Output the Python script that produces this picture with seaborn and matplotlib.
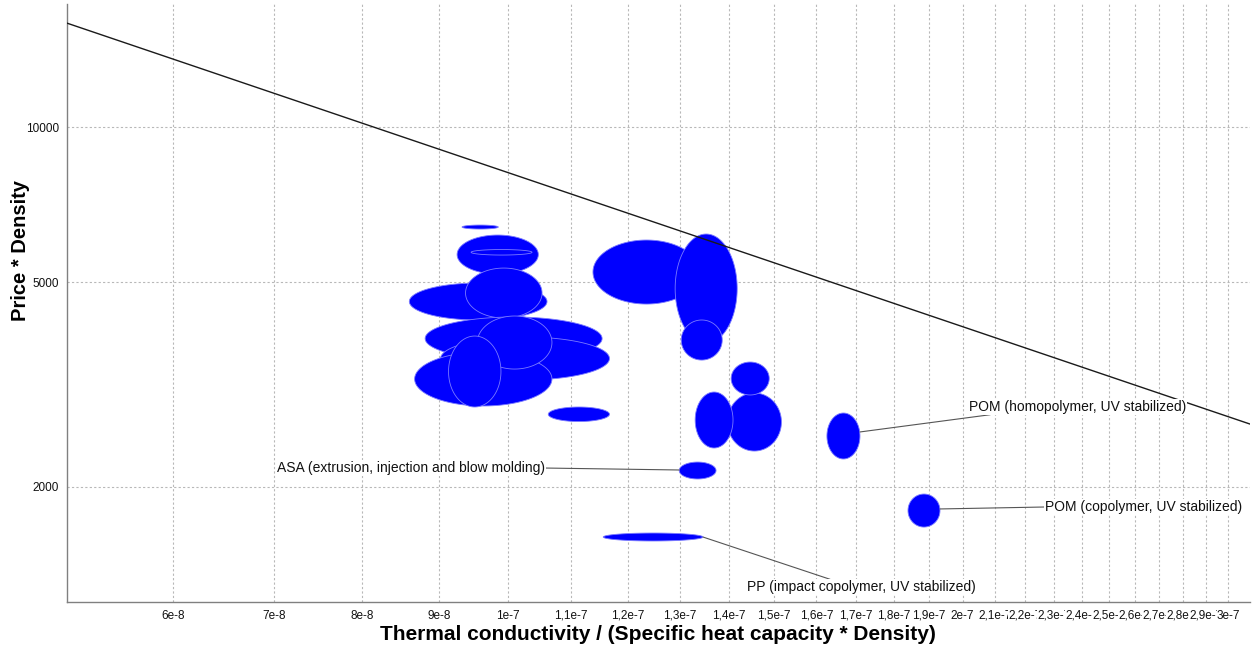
import numpy as np
import pandas as pd
import matplotlib
matplotlib.use("Agg")
import matplotlib.pyplot as plt
import seaborn as sns

# Material bubbles: each is a range in thermal diffusivity (x) and price*density (y)
x_low = [9.32e-8, 9.25e-8, 9.45e-8, 8.60e-8, 9.37e-8, 8.81e-8, 9.02e-8, 8.67e-8,
         9.54e-8, 9.13e-8, 1.063e-7, 1.138e-7, 1.290e-7, 1.302e-7, 1.397e-7,
         1.330e-7, 1.405e-7, 1.626e-7, 1.298e-7, 1.840e-7, 1.156e-7]
x_high = [9.85e-8, 1.047e-7, 1.037e-7, 1.061e-7, 1.053e-7, 1.154e-7, 1.167e-7, 1.069e-7,
          1.069e-7, 9.89e-8, 1.167e-7, 1.340e-7, 1.418e-7, 1.386e-7, 1.517e-7,
          1.409e-7, 1.489e-7, 1.710e-7, 1.373e-7, 1.932e-7, 1.346e-7]
y_low = [6338, 5182, 5642, 4220, 4258, 3528, 3227, 2873,
         3389, 2860, 2680, 4532, 3807, 3528, 2349,
         2381, 3018, 2267, 2073, 1672, 1571]
y_high = [6452, 6170, 5783, 4978, 5323, 4277, 3911, 3657,
          4296, 3928, 2860, 6034, 6198, 4220, 3045,
          3058, 3497, 2784, 2236, 1938, 1628]

# Guide line (performance index)
guide_x = [5.10e-8, 3.10e-7]
guide_y = [15920, 2650]

# Labelled materials: text, anchor on bubble, text position
label_text = ["POM (homopolymer, UV stabilized)", "POM (copolymer, UV stabilized)",
              "ASA (extrusion, injection and blow molding)", "PP (impact copolymer, UV stabilized)"]
label_anchor_x = [1.710e-7, 1.932e-7, 1.298e-7, 1.346e-7]
label_anchor_y = [2558, 1813, 2158, 1599]
label_pos_x = [2.385e-7, 2.268e-7, 1.058e-7, 1.715e-7]
label_pos_y = [2860, 1829, 2177, 1279]

x_tick_values = [6e-8, 7e-8, 8e-8, 9e-8, 1e-7, 1.1e-7, 1.2e-7, 1.3e-7, 1.4e-7, 1.5e-7,
                 1.6e-7, 1.7e-7, 1.8e-7, 1.9e-7, 2e-7, 2.1e-7, 2.2e-7, 2.3e-7, 2.4e-7,
                 2.5e-7, 2.6e-7, 2.7e-7, 2.8e-7, 2.9e-7, 3e-7]
x_tick_labels = ["6e-8", "7e-8", "8e-8", "9e-8", "1e-7", "1,1e-7", "1,2e-7", "1,3e-7",
                 "1,4e-7", "1,5e-7", "1,6e-7", "1,7e-7", "1,8e-7", "1,9e-7", "2e-7",
                 "2,1e-7", "2,2e-7", "2,3e-7", "2,4e-7", "2,5e-7", "2,6e-7", "2,7e-7",
                 "2,8e-7", "2,9e-7", "3e-7"]
y_tick_values = [2000, 5000, 10000]
y_tick_labels = ["2000", "5000", "10000"]
y_minor_values = [3000, 4000, 6000, 7000, 8000, 9000]

sns.set_theme(style="white")
plt.rcParams["font.family"] = ["Liberation Sans", "DejaVu Sans"]

fig = plt.figure(figsize=(12.52, 6.48), dpi=100)
ax = fig.add_axes([0.0533, 0.0710, 0.9451, 0.9228])
ax.set_xscale("log")
ax.set_yscale("log")
ax.set_xlim(5.10e-8, 3.10e-7)
ax.set_ylim(1196, 17334)

# Bubbles are ellipses in log-log space
theta = np.linspace(0, 2 * np.pi, 240)
for i in range(len(x_low)):
    lx0, lx1 = np.log10(x_low[i]), np.log10(x_high[i])
    ly0, ly1 = np.log10(y_low[i]), np.log10(y_high[i])
    cx, cy = (lx0 + lx1) / 2, (ly0 + ly1) / 2
    rx, ry = (lx1 - lx0) / 2, (ly1 - ly0) / 2
    ex = 10 ** (cx + rx * np.cos(theta))
    ey = 10 ** (cy + ry * np.sin(theta))
    ax.fill(ex, ey, facecolor="#0000ff", edgecolor="#7b7bff", linewidth=0.6, zorder=3)

guide = pd.DataFrame({"x": guide_x, "y": guide_y})
sns.lineplot(data=guide, x="x", y="y", ax=ax, color="#1a1a1a", linewidth=1.0, zorder=4)

relpos = [(0.12, 0.0), (0.0, 0.5), (1.0, 0.5), (0.37, 1.0)]
ha = ["center", "left", "right", "center"]
for t, axx, ayy, px, py, rp, h in zip(label_text, label_anchor_x, label_anchor_y,
                                      label_pos_x, label_pos_y, relpos, ha):
    ax.annotate(t, xy=(axx, ayy), xytext=(px, py), ha=h, va="center",
                fontsize=10, color="#111111", zorder=6,
                bbox=dict(facecolor="white", edgecolor="none", pad=0.5),
                arrowprops=dict(arrowstyle="-", color="#555555", lw=0.8,
                                relpos=rp, shrinkA=0, shrinkB=0))

# Ticks and grid
ax.xaxis.set_major_locator(matplotlib.ticker.FixedLocator(x_tick_values))
ax.xaxis.set_major_formatter(matplotlib.ticker.FixedFormatter(x_tick_labels))
minor_x = np.concatenate([np.arange(52, 100, 1) * 1e-9,
                          np.arange(102, 200, 2) * 1e-9,
                          np.arange(205, 310, 5) * 1e-9])
ax.xaxis.set_minor_locator(matplotlib.ticker.FixedLocator(minor_x))
ax.xaxis.set_minor_formatter(matplotlib.ticker.NullFormatter())
ax.yaxis.set_major_locator(matplotlib.ticker.FixedLocator(y_tick_values))
ax.yaxis.set_major_formatter(matplotlib.ticker.FixedFormatter(y_tick_labels))
ax.yaxis.set_minor_locator(matplotlib.ticker.FixedLocator(y_minor_values))
ax.yaxis.set_minor_formatter(matplotlib.ticker.NullFormatter())

ax.tick_params(axis="both", which="major", direction="out", length=4, width=0.8,
               color="#808080", labelsize=8.5, labelcolor="#111111", pad=1.5)
ax.tick_params(axis="both", which="minor", direction="out", length=2, width=0.6,
               color="#808080")
for lbl in ax.get_xticklabels():
    lbl.set_bbox(dict(facecolor="white", edgecolor="none", pad=0.2))

ax.grid(True, which="major", axis="both", color="#b8b8b8", linestyle=(0, (2, 2)),
        linewidth=0.8, zorder=0)
ax.set_axisbelow(True)

for side in ["top", "right"]:
    ax.spines[side].set_visible(False)
for side in ["left", "bottom"]:
    ax.spines[side].set_color("#808080")
    ax.spines[side].set_linewidth(1.0)

ax.set_xlabel("Thermal conductivity / (Specific heat capacity * Density)",
              fontsize=15, fontweight="bold", color="#000000")
ax.set_ylabel("Price * Density", fontsize=14.5, fontweight="bold", color="#000000")
ax.xaxis.set_label_coords(0.5, -0.038)
ax.yaxis.set_label_coords(-0.031, 0.587)

fig.savefig("out.png", dpi=100, facecolor="white")
